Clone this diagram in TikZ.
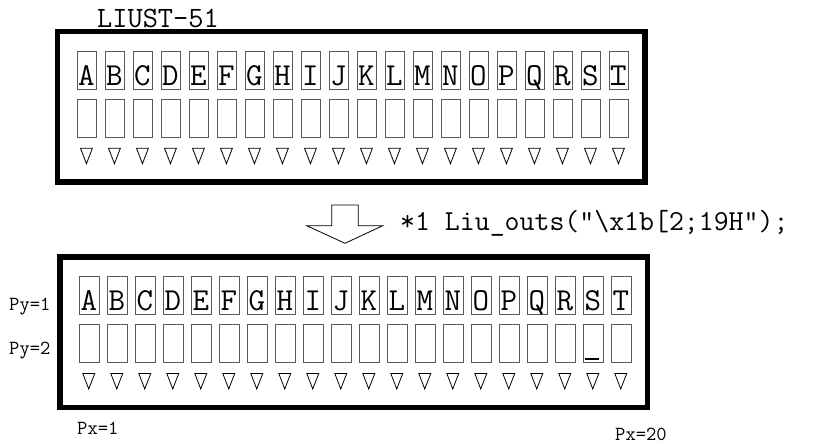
\documentclass[tikz,border=0pt]{standalone}
\usepackage{fontspec}
\usetikzlibrary{positioning}
\definecolor{cellgray}{gray}{0.35}
\tikzset{
  cellbox/.style={draw=cellgray,line width=1.1pt,minimum width=19.5pt,minimum height=38pt,inner sep=0pt,anchor=north west},
  lcdframe/.style={line width=5.5pt},
  lcdchar/.style={font=\fontsize{32}{32}\ttfamily,inner sep=0pt,anchor=base},
  lbl/.style={font=\fontsize{20}{20}\ttfamily,inner sep=0pt,anchor=base west},
  cursorline/.style={line width=2pt}
}
\newcommand{\lcdpanel}[1]{% #1 = name prefix
  \draw[lcdframe] (-19,-19) rectangle (568.5,131.5);
  \foreach \n [count=\i from 0] in {A,B,C,D,E,F,G,H,I,J,K,L,M,N,O,P,Q,R,S,T} {
    \node[cellbox] (#1r1\n) at (\i*28,0) {};
    \node[lcdchar] (#1ch\n) at (\i*28+9.75,34.3) {\n};
    \node[cellbox] (#1r2\n) at (\i*28,48) {};
    \draw[line width=0.8pt,line join=miter] (\i*28+3.8,97.5) -- (\i*28+15.7,97.5) -- (\i*28+9.75,113) -- cycle;
  }
}

\begin{document}
\begin{tikzpicture}[x=1pt,y=-1pt]
  \useasboundingbox (0,0) rectangle (814,444);

  \node[lbl,font=\fontsize{29.5}{29.5}\ttfamily] (title) at (97,27.3) {LIUST-51};

  % display before
  \begin{scope}[shift={(76.7,50.7)}]
    \lcdpanel{top}
    \draw[cursorline] (532+2.3,33.8) -- (532+16.3,33.8);
  \end{scope}

  % big hollow arrow + command
  \draw[line width=0.8pt] (331.7,205) -- (358.3,205) -- (358.3,225.7) -- (382.7,225.7)
       -- (345,243.3) -- (306.7,225.7) -- (331.7,225.7) -- cycle;
  \node[lbl,font=\fontsize{29}{29}\ttfamily] (cmd) at (400,230) {*1 Liu\_outs("\textbackslash x1b[2;19H");};

  % display after
  \begin{scope}[shift={(79,276)}]
    \lcdpanel{bot}
    \draw[cursorline] (504+2.3,83.3) -- (504+16.3,83.3);
  \end{scope}

  \node[lbl] (py1) at (9,310) {Py=1};
  \node[lbl] (py2) at (9,354) {Py=2};
  \node[lbl] (px1) at (77,434.5) {Px=1};
  \node[lbl] (px20) at (615,440.5) {Px=20};
\end{tikzpicture}
\end{document}
